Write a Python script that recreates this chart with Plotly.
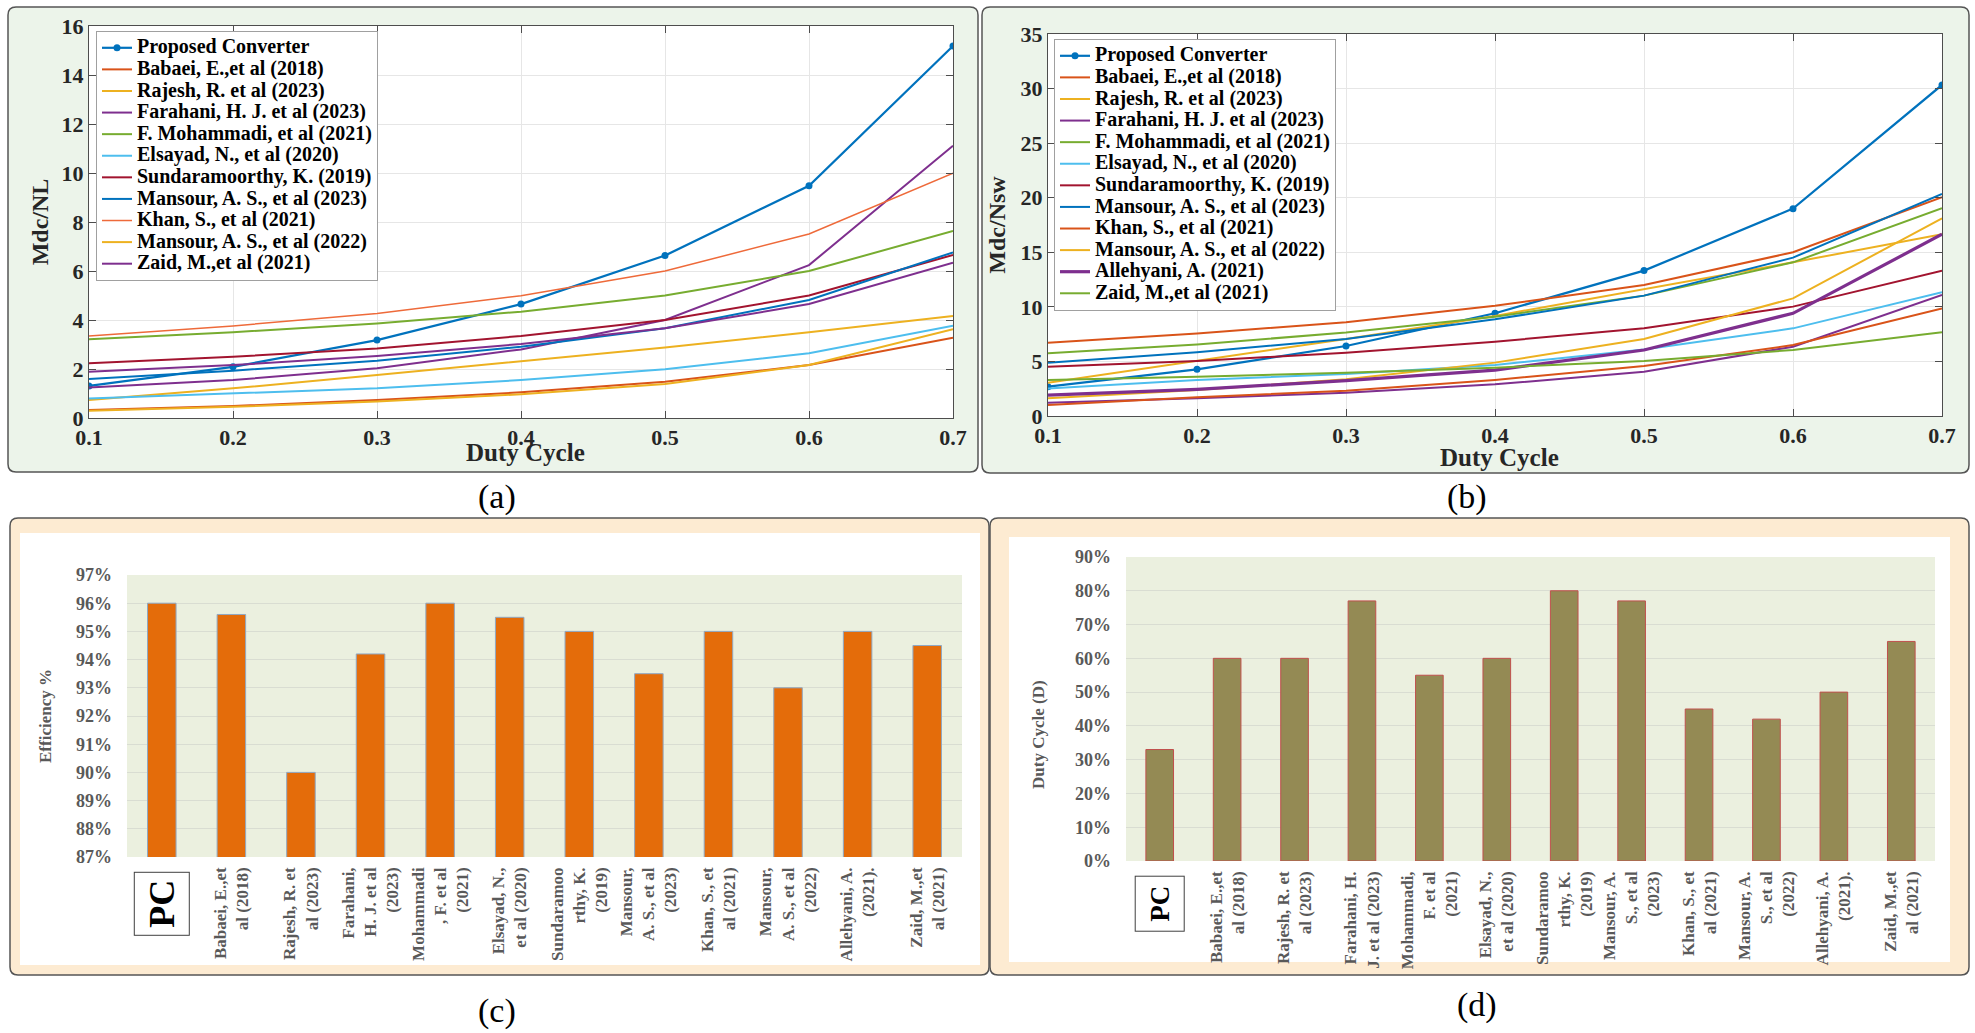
import plotly.graph_objects as go

W, H = 1975, 1033

# ---------------- data ----------------
duty_cycle = [0.1, 0.2, 0.3, 0.4, 0.5, 0.6, 0.7]

# (a) Mdc/NL against duty cycle
nl_proposed = [1.31, 2.09, 3.18, 4.65, 6.63, 9.48, 15.18]
nl_babaei = [0.33, 0.49, 0.73, 1.05, 1.48, 2.16, 3.28]
nl_rajesh = [0.73, 1.21, 1.76, 2.33, 2.88, 3.50, 4.16]
nl_farahani = [1.24, 1.55, 2.03, 2.80, 4.00, 6.24, 11.11]
nl_mohammadi = [3.21, 3.50, 3.86, 4.34, 5.00, 6.00, 7.63]
nl_elsayad = [0.80, 1.01, 1.21, 1.55, 1.99, 2.64, 3.77]
nl_sundaramoorthy = [2.23, 2.50, 2.84, 3.35, 4.00, 5.00, 6.65]
nl_mansour23 = [1.59, 1.93, 2.34, 2.91, 3.66, 4.82, 6.76]
nl_khan = [3.35, 3.76, 4.27, 4.99, 6.00, 7.51, 9.99]
nl_mansour22 = [0.30, 0.46, 0.67, 0.97, 1.39, 2.16, 3.62]
nl_zaid = [1.89, 2.16, 2.53, 3.02, 3.66, 4.65, 6.34]

# (b) Mdc/Nsw against duty cycle
sw_proposed = [2.69, 4.28, 6.41, 9.41, 13.32, 19.00, 30.33]
sw_babaei = [6.72, 7.57, 8.58, 10.10, 12.00, 15.00, 20.04]
sw_rajesh = [3.05, 5.04, 7.06, 9.17, 11.60, 14.08, 16.65]
sw_farahani = [1.22, 1.62, 2.14, 2.90, 4.06, 6.35, 11.09]
sw_mohammadi = [5.74, 6.56, 7.64, 9.10, 11.03, 14.08, 19.03]
sw_elsayad = [2.53, 3.30, 3.85, 4.67, 6.10, 8.03, 11.33]
sw_sundaramoorthy = [4.52, 5.04, 5.80, 6.81, 8.03, 10.02, 13.32]
sw_mansour23 = [4.89, 5.83, 7.06, 8.86, 11.03, 14.51, 20.34]
sw_khan = [1.01, 1.71, 2.32, 3.30, 4.58, 6.50, 9.86]
sw_mansour22 = [1.62, 2.38, 3.36, 4.89, 7.06, 10.78, 18.11]
sw_allehyani = [1.92, 2.44, 3.24, 4.21, 6.05, 9.41, 16.65]
sw_zaid = [3.30, 3.60, 3.97, 4.43, 5.04, 6.05, 7.67]

# (c), (d) comparison bars
references = [
    "PC", "Babaei 2018", "Rajesh 2023", "Farahani 2023", "Mohammadi 2021",
    "Elsayad 2020", "Sundaramoorthy 2019", "Mansour 2023", "Khan 2021",
    "Mansour 2022", "Allehyani 2021", "Zaid 2021",
]
efficiency = [96, 95.6, 90, 94.2, 96, 95.5, 95, 93.5, 95, 93, 95, 94.5]
max_duty = [33, 60, 60, 77, 55, 60, 80, 77, 45, 42, 50, 65]

labels_c = [
    "", "Babaei, E.,et<br>al (2018)", "Rajesh, R. et<br>al (2023)",
    "Farahani,<br>H. J. et al<br>(2023)", "Mohammadi<br>, F. et al<br>(2021)",
    "Elsayad, N.,<br>et al (2020)", "Sundaramoo<br>rthy, K.<br>(2019)",
    "Mansour,<br>A. S., et al<br>(2023)", "Khan, S., et<br>al (2021)",
    "Mansour,<br>A. S., et al<br>(2022)", "Allehyani, A.<br>(2021).",
    "Zaid, M.,et<br>al (2021)",
]
labels_d = [
    "", "Babaei, E.,et<br>al (2018)", "Rajesh, R. et<br>al (2023)",
    "Farahani, H.<br>J. et al (2023)", "Mohammadi,<br>F. et al<br>(2021)",
    "Elsayad, N.,<br>et al (2020)", "Sundaramoo<br>rthy, K.<br>(2019)",
    "Mansour, A.<br>S., et al<br>(2023)", "Khan, S., et<br>al (2021)",
    "Mansour, A.<br>S., et al<br>(2022)", "Allehyani, A.<br>(2021).",
    "Zaid, M.,et<br>al (2021)",
]

# ---------------- styling helpers ----------------
SERIF = "Liberation Serif"
BLUE, ORANGE, YELLOW = "#0072BD", "#D95319", "#EDB120"
PURPLE, GREEN, LIGHTBLUE, DARKRED = "#7E2F8E", "#77AC30", "#4DBEEE", "#A2142F"


def fx(p):
    return p / W


def fy(p):
    return 1 - p / H


def legend_name(text):
    return f'<span style="font-size:20px">{text}</span>'


fig = go.Figure()

series_a = [
    ("Proposed Converter", nl_proposed, BLUE, 2.2),
    ("Babaei, E.,et al (2018)", nl_babaei, ORANGE, 2),
    ("Rajesh, R. et al (2023)", nl_rajesh, YELLOW, 2),
    ("Farahani, H. J. et al (2023)", nl_farahani, PURPLE, 2),
    ("F. Mohammadi, et al (2021)", nl_mohammadi, GREEN, 2),
    ("Elsayad, N., et al (2020)", nl_elsayad, LIGHTBLUE, 2),
    ("Sundaramoorthy, K. (2019)", nl_sundaramoorthy, DARKRED, 2),
    ("Mansour, A. S., et al (2023)", nl_mansour23, BLUE, 2),
    ("Khan, S., et al (2021)", nl_khan, "#EE6A3A", 1.5),
    ("Mansour, A. S., et al (2022)", nl_mansour22, YELLOW, 2),
    ("Zaid, M.,et al (2021)", nl_zaid, PURPLE, 2),
]
for i, (name, vals, color, width) in enumerate(series_a):
    fig.add_trace(go.Scatter(
        x=duty_cycle, y=vals, name=legend_name(name), xaxis="x", yaxis="y",
        mode="lines+markers" if i == 0 else "lines",
        line=dict(color=color, width=width),
        marker=dict(size=7, color=color), legend="legend",
    ))

series_b = [
    ("Proposed Converter", sw_proposed, BLUE, 2.2),
    ("Babaei, E.,et al (2018)", sw_babaei, ORANGE, 2),
    ("Rajesh, R. et al (2023)", sw_rajesh, YELLOW, 2),
    ("Farahani, H. J. et al (2023)", sw_farahani, PURPLE, 2),
    ("F. Mohammadi, et al (2021)", sw_mohammadi, GREEN, 2),
    ("Elsayad, N., et al (2020)", sw_elsayad, LIGHTBLUE, 2),
    ("Sundaramoorthy, K. (2019)", sw_sundaramoorthy, DARKRED, 2),
    ("Mansour, A. S., et al (2023)", sw_mansour23, BLUE, 2),
    ("Khan, S., et al (2021)", sw_khan, ORANGE, 2),
    ("Mansour, A. S., et al (2022)", sw_mansour22, YELLOW, 2),
    ("Allehyani, A. (2021)", sw_allehyani, PURPLE, 3.2),
    ("Zaid, M.,et al (2021)", sw_zaid, GREEN, 2),
]
for i, (name, vals, color, width) in enumerate(series_b):
    fig.add_trace(go.Scatter(
        x=duty_cycle, y=vals, name=legend_name(name), xaxis="x2", yaxis="y2",
        mode="lines+markers" if i == 0 else "lines",
        line=dict(color=color, width=width),
        marker=dict(size=7, color=color), legend="legend2",
    ))

fig.add_trace(go.Bar(
    x=references, y=efficiency, xaxis="x3", yaxis="y3", showlegend=False,
    marker=dict(color="#E46C0A", line=dict(color="#8FA8C4", width=1)),
))
fig.add_trace(go.Bar(
    x=references, y=max_duty, xaxis="x4", yaxis="y4", showlegend=False,
    marker=dict(color="#948A54", line=dict(color="#C0504D", width=1)),
))

# ---------------- axes ----------------
line_axis = dict(
    showline=True, linecolor="#4D4D4D", linewidth=1, mirror="ticks",
    ticks="inside", ticklen=7, tickcolor="#4D4D4D",
    showgrid=True, gridcolor="#E6E6E6", gridwidth=1, zeroline=False,
    tickfont=dict(family=SERIF, size=22, color="#262626", weight="bold"),
)
line_title = dict(family=SERIF, size=24, color="#262626", weight="bold")
bar_y = dict(
    showline=False, ticks="", zeroline=False, showgrid=True,
    gridcolor="#D9DDD2", gridwidth=1, ticksuffix="%", ticklabelstandoff=14,
    tickfont=dict(family=SERIF, size=18, color="#595959", weight="bold"),
)
bar_title = dict(family=SERIF, size=17, color="#595959", weight="bold")
bar_x = dict(
    type="category", showline=False, ticks="", showgrid=False, tickangle=-90,
    ticklabelstandoff=6,
    tickfont=dict(family=SERIF, size=17, color="#595959", weight="bold"),
)

fig.update_layout(
    xaxis=dict(domain=[fx(89), fx(953)], anchor="y", range=[0.1, 0.7],
               dtick=0.1, tickformat=".1f", **line_axis),
    yaxis=dict(domain=[fy(418), fy(26)], anchor="x", range=[0, 16],
               dtick=2, title=dict(text="Mdc/NL", font=line_title, standoff=6),
               **line_axis),
    xaxis2=dict(domain=[fx(1048), fx(1942)], anchor="y2", range=[0.1, 0.7],
                dtick=0.1, tickformat=".1f", **line_axis),
    yaxis2=dict(domain=[fy(416), fy(34)], anchor="x2", range=[0, 35],
                dtick=5, title=dict(text="Mdc/Nsw", font=line_title, standoff=8),
                **line_axis),
    xaxis3=dict(domain=[fx(127), fx(962)], anchor="y3",
                tickvals=references, ticktext=labels_c, **bar_x),
    yaxis3=dict(domain=[fy(857), fy(575)], anchor="x3", range=[87, 97],
                dtick=1,
                title=dict(text="Efficiency %", font=bar_title, standoff=20),
                **bar_y),
    xaxis4=dict(domain=[fx(1126), fx(1935)], anchor="y4",
                tickvals=references, ticktext=labels_d, **bar_x),
    yaxis4=dict(domain=[fy(861), fy(557)], anchor="x4", range=[0, 90],
                dtick=10, **bar_y),
    bargap=0.59,
)

legend_style = dict(
    xanchor="left", yanchor="top", bgcolor="white", bordercolor="#A0A0A0",
    borderwidth=1, itemwidth=30, tracegroupgap=0,
    font=dict(family=SERIF, size=14.3, color="black", weight="bold"),
)
fig.update_layout(
    legend=dict(x=fx(96), y=fy(31), **legend_style),
    legend2=dict(x=fx(1054), y=fy(39), **legend_style),
)


# ---------------- panel frames ----------------
def rounded_box(x0, y0, x1, y1, r, fill, line_color):
    rx, ry = r / W, r / H
    X0, X1, T, B = fx(x0), fx(x1), fy(y0), fy(y1)
    path = (
        f"M {X0 + rx},{T} L {X1 - rx},{T} Q {X1},{T} {X1},{T - ry} "
        f"L {X1},{B + ry} Q {X1},{B} {X1 - rx},{B} L {X0 + rx},{B} "
        f"Q {X0},{B} {X0},{B + ry} L {X0},{T - ry} Q {X0},{T} {X0 + rx},{T} Z"
    )
    return dict(type="path", xref="paper", yref="paper", path=path,
                fillcolor=fill, line=dict(color=line_color, width=1.5),
                layer="below")


def plain_box(x0, y0, x1, y1, fill):
    return dict(type="rect", xref="paper", yref="paper", x0=fx(x0), x1=fx(x1),
                y0=fy(y1), y1=fy(y0), fillcolor=fill, line=dict(width=0),
                layer="below")


shapes = [
    rounded_box(8, 7, 978, 472, 8, "#ECF4EA", "#555555"),
    rounded_box(982, 7, 1969, 473, 8, "#ECF4EA", "#555555"),
    rounded_box(10, 518, 989, 975, 8, "#FDEBD2", "#555555"),
    rounded_box(990, 518, 1969, 975, 8, "#FDEBD2", "#555555"),
    plain_box(20, 533, 980, 965, "white"),
    plain_box(1009, 537, 1950, 962, "white"),
    plain_box(89, 26, 953, 418, "white"),
    plain_box(1048, 34, 1942, 416, "white"),
    plain_box(127, 575, 962, 857, "#EBF0DF"),
    plain_box(1126, 557, 1935, 861, "#EBF0DF"),
]


def label(text, x, y, size, angle=0, color="#262626", bold=True):
    return dict(text=text, x=fx(x), y=fy(y), xref="paper", yref="paper",
                showarrow=False, textangle=angle, xanchor="center",
                yanchor="middle",
                font=dict(family=SERIF, size=size, color=color,
                          weight="bold" if bold else "normal"))


annotations = [
    label("Duty Cycle", 525, 453, 25),
    label("Duty Cycle", 1499, 457, 25),
    label("Duty Cycle (D)", 1038, 735, 17, -90, "#595959"),
    label("(a)", 497, 497, 34, color="black", bold=False),
    label("(b)", 1467, 497, 34, color="black", bold=False),
    label("(c)", 497, 1011, 34, color="black", bold=False),
    label("(d)", 1477, 1005, 34, color="black", bold=False),
    dict(text="PC", x=references[0], xref="x3", y=fy(904), yref="paper",
         xanchor="center", yanchor="middle",
         showarrow=False, textangle=-90, bgcolor="white",
         bordercolor="#404040", borderwidth=1, borderpad=7,
         font=dict(family=SERIF, size=36, color="black", weight="bold")),
    dict(text="PC", x=references[0], xref="x4", y=fy(904), yref="paper",
         xanchor="center", yanchor="middle",
         showarrow=False, textangle=-90, bgcolor="white",
         bordercolor="#404040", borderwidth=1, borderpad=9,
         font=dict(family=SERIF, size=27, color="black", weight="bold")),
]

fig.update_layout(
    width=W, height=H, autosize=False,
    margin=dict(l=0, r=0, t=0, b=0, autoexpand=False),
    paper_bgcolor="white", plot_bgcolor="rgba(0,0,0,0)",
    shapes=shapes, annotations=annotations,
    font=dict(family=SERIF),
)

fig.write_html("out.html")
